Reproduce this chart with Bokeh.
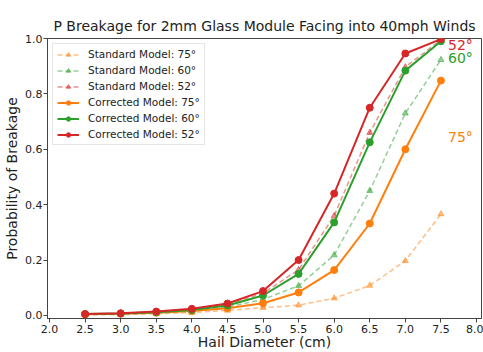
from bokeh.plotting import figure
from bokeh.models import FixedTicker, NumeralTickFormatter, Legend, LegendItem, Label, Range1d
from bokeh.embed import file_html
from bokeh.resources import INLINE

diam = [2.5, 3.0, 3.5, 4.0, 4.5, 5.0, 5.5, 6.0, 6.5, 7.0, 7.5]
std_75 = [0.002, 0.003, 0.006, 0.010, 0.018, 0.028, 0.037, 0.062, 0.108, 0.197, 0.366]
std_60 = [0.003, 0.005, 0.009, 0.016, 0.030, 0.058, 0.107, 0.218, 0.450, 0.730, 0.923]
std_52 = [0.004, 0.007, 0.012, 0.021, 0.038, 0.080, 0.165, 0.360, 0.660, 0.897, 0.995]
cor_75 = [0.004, 0.006, 0.010, 0.016, 0.026, 0.044, 0.083, 0.164, 0.332, 0.600, 0.848]
cor_60 = [0.005, 0.007, 0.012, 0.020, 0.036, 0.072, 0.150, 0.336, 0.625, 0.884, 0.990]
cor_52 = [0.005, 0.008, 0.014, 0.024, 0.043, 0.088, 0.200, 0.440, 0.750, 0.946, 0.998]

x_ticks = [2.0, 2.5, 3.0, 3.5, 4.0, 4.5, 5.0, 5.5, 6.0, 6.5, 7.0, 7.5, 8.0]
y_ticks = [0.0, 0.2, 0.4, 0.6, 0.8, 1.0]

ORANGE = "#ff7f0e"
GREEN = "#2ca02c"
RED = "#d62728"
FONT = "DejaVu Sans"

p = figure(width=483, height=352, output_backend="svg", toolbar_location=None,
           x_range=Range1d(1.972, 8.07), y_range=Range1d(-0.011, 1.0),
           min_border_left=47, min_border_right=2, min_border_top=38, min_border_bottom=32,
           title="P Breakage for 2mm Glass Module Facing into 40mph Winds")
p.title.text_font = FONT
p.title.text_font_size = "14px"
p.title.text_font_style = "normal"
p.title.align = "center"
p.title.text_color = "#222222"
p.xgrid.visible = False
p.ygrid.visible = False
p.outline_line_color = "#444444"
p.outline_line_width = 1
p.background_fill_color = "white"
p.border_fill_color = "white"

for ax in (p.xaxis[0], p.yaxis[0]):
    ax.axis_line_color = "#444444"
    ax.major_tick_line_color = "#444444"
    ax.major_tick_out = 4
    ax.major_tick_in = 0
    ax.minor_tick_out = 0
    ax.minor_tick_in = 0
    ax.major_label_text_font = FONT
    ax.major_label_text_font_size = "11px"
    ax.major_label_text_color = "#222222"
    ax.major_label_standoff = 2
    ax.axis_label_text_font = FONT
    ax.axis_label_text_font_size = "14px"
    ax.axis_label_text_font_style = "normal"
    ax.axis_label_text_color = "#222222"
    ax.formatter = NumeralTickFormatter(format="0.0")

p.xaxis[0].ticker = FixedTicker(ticks=x_ticks)
p.yaxis[0].ticker = FixedTicker(ticks=y_ticks)
p.xaxis[0].axis_label = "Hail Diameter (cm)"
p.yaxis[0].axis_label = "Probability of Breakage"
p.xaxis[0].axis_label_standoff = -2
p.yaxis[0].axis_label_standoff = 2
p.yaxis[0].major_label_standoff = 1

items = []
for vals, col, lab in [(std_75, ORANGE, "Standard Model: 75°"),
                       (std_60, GREEN, "Standard Model: 60°"),
                       (std_52, RED, "Standard Model: 52°")]:
    l = p.line(diam, vals, line_color=col, line_alpha=0.5, line_width=1.5, line_dash="5 3")
    m = p.scatter(diam, vals, marker="triangle", size=6, fill_color=col, line_color=col,
                  fill_alpha=0.5, line_alpha=0.5)
    items.append(LegendItem(label=lab, renderers=[l, m]))

for vals, col, lab in [(cor_75, ORANGE, "Corrected Model: 75°"),
                       (cor_60, GREEN, "Corrected Model: 60°"),
                       (cor_52, RED, "Corrected Model: 52°")]:
    l = p.line(diam, vals, line_color=col, line_width=2)
    m = p.scatter(diam, vals, marker="circle", size=7, fill_color=col, line_color=col)
    items.append(LegendItem(label=lab, renderers=[l, m]))

legend = Legend(items=items, location="top_left")
legend.label_text_font = FONT
legend.label_text_font_size = "10.5px"
legend.label_text_color = "#222222"
legend.label_height = 11
legend.glyph_height = 11
legend.glyph_width = 22
legend.spacing = 4
legend.padding = 4
legend.margin = 5
legend.label_standoff = 9
legend.border_line_color = "#cccccc"
legend.border_line_width = 1
legend.background_fill_alpha = 0.8
p.add_layout(legend)

for txt, yv, col in [("52°", 0.975, RED), ("60°", 0.928, GREEN), ("75°", 0.646, ORANGE)]:
    p.add_layout(Label(x=7.6, y=yv, text=txt, text_color=col, text_font=FONT,
                       text_font_size="14px", text_baseline="middle", text_align="left"))

open("out.html", "w").write(file_html(p, INLINE))
